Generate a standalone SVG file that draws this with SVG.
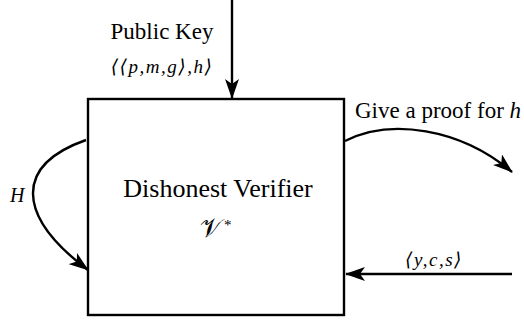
<svg xmlns="http://www.w3.org/2000/svg" width="524" height="323" viewBox="0 0 524 323">
<style>
.t{font-family:"Liberation Serif","Times New Roman","DejaVu Serif",serif;fill:#000}
.m{font-family:"Liberation Serif","Times New Roman","DejaVu Serif",serif;font-style:italic;fill:#000}
.ln{fill:none;stroke:#000;stroke-width:2.4}
</style>
<defs>
<marker id="ah" viewBox="0 0 20 14" refX="19" refY="7" markerUnits="userSpaceOnUse" markerWidth="20" markerHeight="14" orient="auto">
<path d="M0,0 L20,7 L0,14 L5,7 Z" fill="#000"/>
</marker>
</defs>
<g id="verifier">
<rect x="88" y="99" width="256" height="216" fill="#fff" stroke="#000" stroke-width="2.4"/>
<text class="t" x="218" y="197" font-size="26" text-anchor="middle">Dishonest Verifier</text>
<text font-family="DejaVu Serif, serif" x="211" y="237" font-size="26" text-anchor="middle">𝒱</text>
<text class="t" x="224" y="230" font-size="15">*</text>
</g>
<g id="connectors">
<path class="ln" d="M232 0 V98" marker-end="url(#ah)"/>
<path class="ln" d="M86 140 C15 165 15 215 88 270" marker-end="url(#ah)"/>
<path class="ln" d="M345 141 C390 118 460 128 512 172" marker-end="url(#ah)"/>
<path class="ln" d="M512 274 H346" marker-end="url(#ah)"/>
</g>
<g id="labels">
<text class="t" x="162" y="39" font-size="23" text-anchor="middle">Public Key</text>
<text class="m" x="162" y="73" font-size="19" letter-spacing="1.5" text-anchor="middle">⟨⟨p,m,g⟩,h⟩</text>
<text class="m" x="10" y="202" font-size="20">H</text>
<text class="t" x="355" y="118" font-size="23">Give a proof for <tspan font-style="italic">h</tspan></text>
<text class="m" x="434" y="266" font-size="19" letter-spacing="1.5" text-anchor="middle">⟨y,c,s⟩</text>
</g>
</svg>
